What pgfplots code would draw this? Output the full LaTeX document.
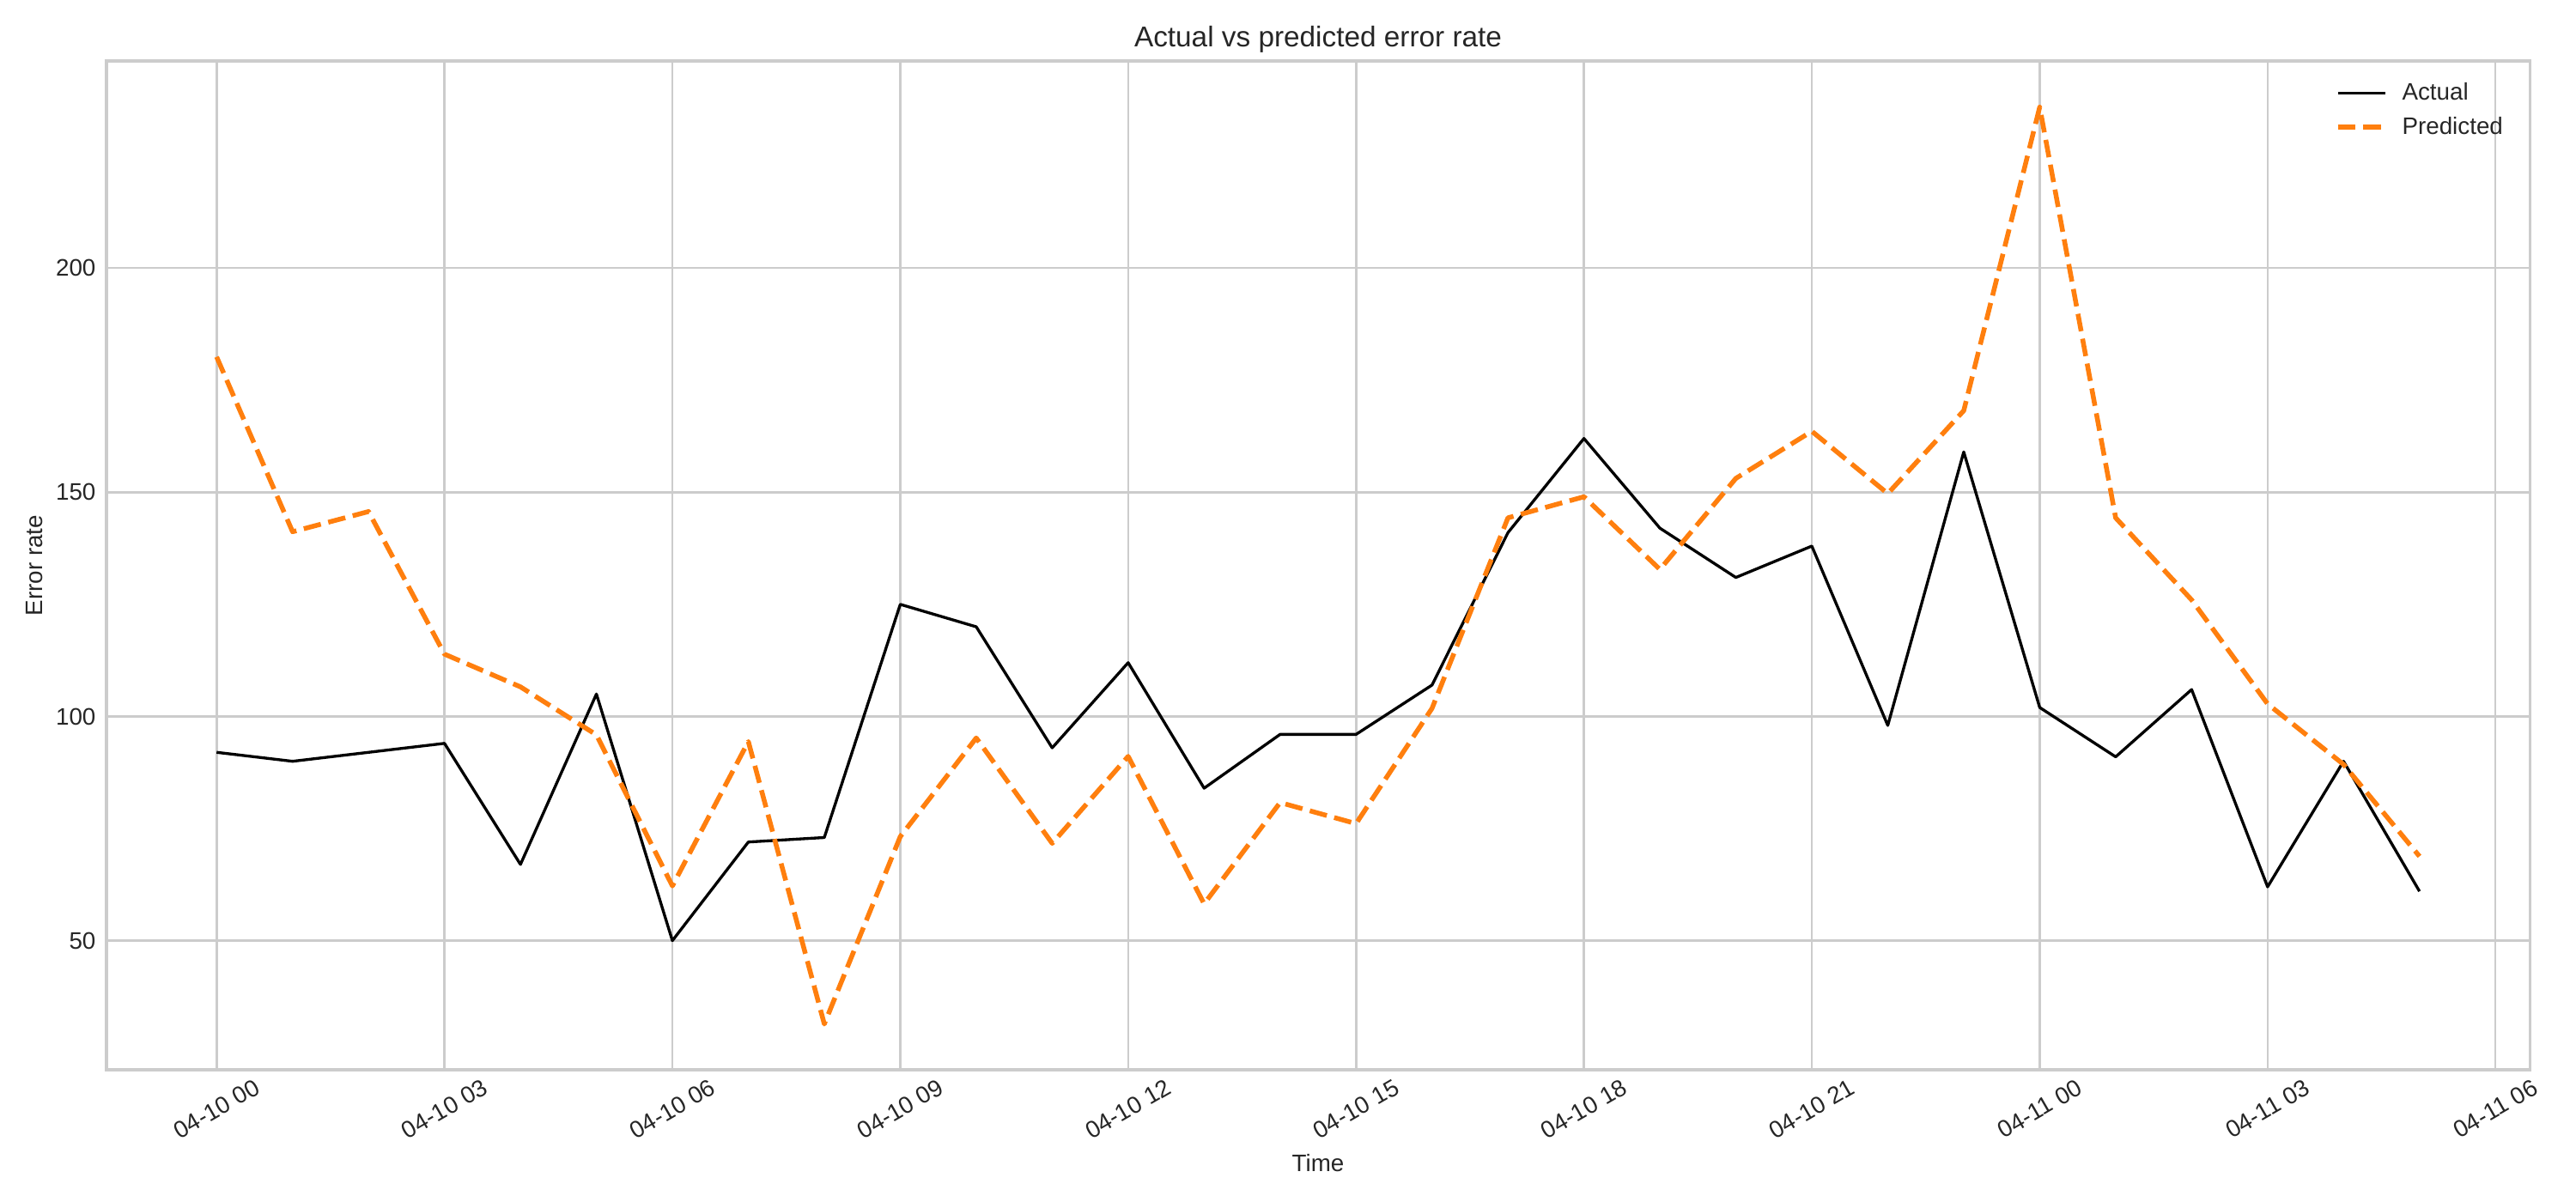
\documentclass[border=0pt]{standalone}
\usepackage{pgfplots}
\pgfplotsset{compat=1.18}
\usepackage{fontspec}
\setmainfont{Liberation Sans}
\definecolor{textgray}{HTML}{262626}
\definecolor{gridgray}{HTML}{CCCCCC}
\definecolor{mplorange}{HTML}{FF7F0E}
\pgfplotstableread{
h actual predicted
0 92 180.2
1 90 141.2
2 92 145.7
3 94 113.9
4 67 106.6
5 105 95.9
6 50 62.2
7 72 94.4
8 73 31.4
9 125 73.2
10 120 95.2
11 93 71.7
12 112 91.1
13 84 58.2
14 96 80.8
15 96 76.1
16 107 101.8
17 141 144.3
18 162 149.0
19 142 132.8
20 131 153.1
21 138 163.6
22 98 149.7
23 159 168.2
24 102 235.9
25 91 144.3
26 106 126.0
27 62 102.8
28 90 89.3
29 61 68.8
}\datatable
\begin{document}
\begin{tikzpicture}
\begin{axis}[
  scale only axis, width=1015.9pt, height=423pt,
  xmin=-1.45, xmax=30.45, ymin=21.2, ymax=246.2,
  xtick={0,3,...,30},
  xticklabels={04-10 00,04-10 03,04-10 06,04-10 09,04-10 12,04-10 15,04-10 18,04-10 21,04-11 00,04-11 03,04-11 06},
  ytick={50,100,150,200},
  grid=major,
  major grid style={gridgray, line width=0.9pt},
  axis line style={gridgray, line width=1.1pt},
  major tick length=0pt,
  tick label style={font=\fontsize{10}{12}\selectfont, text=textgray},
  /pgf/number format/assume math mode=true,
  xticklabel style={yshift=-16.4pt, rotate=30, anchor=center},
  yticklabel style={anchor=east, xshift=-1pt},
  title={Actual vs predicted error rate},
  title style={at={(axis description cs:0.5,1)}, anchor=base, font=\fontsize{12}{14}\selectfont, text=textgray},
  xlabel={Time},
  xlabel style={at={([yshift=-42.5pt]axis description cs:0.5,0)}, anchor=base, font=\fontsize{10}{12}\selectfont, text=textgray},
  ylabel={Error rate},
  ylabel style={at={([xshift=-27pt]axis description cs:0,0.5)}, anchor=base, rotate=0, font=\fontsize{10}{12}\selectfont, text=textgray},
  legend style={at={(1,1)}, anchor=north east, xshift=-5pt, yshift=-3pt, draw=none, fill=none,
    font=\fontsize{10}{12}\selectfont, text=textgray, row sep=1.5pt, inner sep=4pt,
    /tikz/every odd column/.append style={column sep=4pt}},
  legend cell align=left,
  legend image code/.code={\draw[#1] (0pt,0pt) -- (20pt,0pt);},
]
\addplot[black, line width=1.2pt, line join=round] table[x=h, y=actual] {\datatable};
\addlegendentry{Actual}
\addplot[mplorange, line width=2pt, line join=round, line cap=butt, dash pattern=on 7.4pt off 3.2pt] table[x=h, y=predicted] {\datatable};
\addlegendentry{Predicted}
\end{axis}
\pgfresetboundingbox
\path ([xshift=-44.64pt,yshift=-55.44pt]current axis.south west) rectangle ([xshift=19.44pt,yshift=25.56pt]current axis.north east);
\end{tikzpicture}
\end{document}
